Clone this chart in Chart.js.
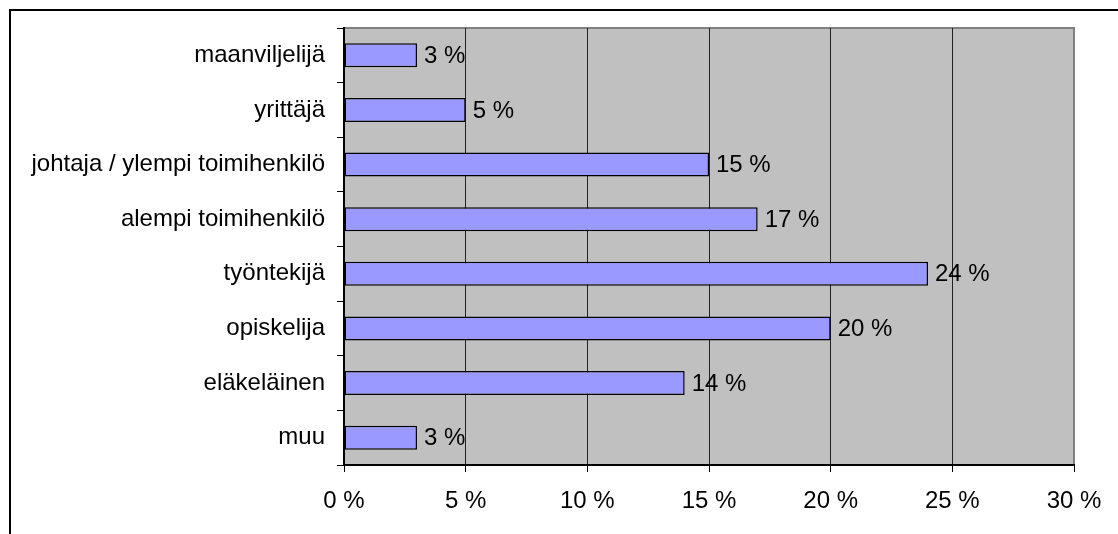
<!DOCTYPE html>
<html>
<head>
<meta charset="utf-8">
<script src="https://cdn.jsdelivr.net/npm/chart.js@4"></script>
<style>
  body { margin: 0; background: #fff; }
  canvas { display: block; }
</style>
</head>
<body>
<canvas id="grafico" width="1118" height="534"></canvas>
<script>
// datos
const categorias = ['maanviljelijä', 'yrittäjä', 'johtaja / ylempi toimihenkilö', 'alempi toimihenkilö', 'työntekijä', 'opiskelija', 'eläkeläinen', 'muu'];
const porcentajes = [3, 5, 15, 17, 24, 20, 14, 3];
const ticksX = [0, 5, 10, 15, 20, 25, 30];

const fuente = { family: "'Liberation Sans', Arial, sans-serif", size: 24 };

// fondo gris del area y marco exterior
const fondoPlugin = {
  id: 'fondo',
  beforeDraw(chart) {
    const { ctx, chartArea: a } = chart;
    ctx.save();
    ctx.fillStyle = '#fff';
    ctx.fillRect(0, 0, chart.width, chart.height);
    ctx.fillStyle = '#C0C0C0';
    ctx.fillRect(a.left, a.top, a.right - a.left, a.bottom - a.top);
    ctx.strokeStyle = '#808080';
    ctx.lineWidth = 2;
    ctx.beginPath();
    ctx.moveTo(a.left, a.top);
    ctx.lineTo(a.right, a.top);
    ctx.lineTo(a.right, a.bottom);
    ctx.stroke();
    ctx.restore();
  },
  afterDraw(chart) {
    const ctx = chart.ctx;
    ctx.save();
    ctx.fillStyle = '#000';
    ctx.fillRect(9, 9, 2, chart.height - 9);
    ctx.fillRect(9, 9, chart.width - 9, 2);
    ctx.restore();
  }
};

// etiquetas de valor al final de cada barra
const etiquetasPlugin = {
  id: 'etiquetas',
  afterDatasetsDraw(chart) {
    const ctx = chart.ctx;
    const meta = chart.getDatasetMeta(0);
    ctx.save();
    ctx.font = fuente.size + 'px ' + fuente.family;
    ctx.fillStyle = '#000';
    ctx.textBaseline = 'middle';
    ctx.textAlign = 'left';
    meta.data.forEach((barra, i) => {
      ctx.fillText(porcentajes[i] + ' %', barra.x + 7, barra.y + 1);
    });
    ctx.restore();
  }
};

new Chart(document.getElementById('grafico'), {
  type: 'bar',
  data: {
    labels: categorias,
    datasets: [{
      data: porcentajes,
      backgroundColor: '#9999FF',
      borderColor: '#000',
      borderWidth: 1.5,
      borderSkipped: false,
      categoryPercentage: 1,
      barPercentage: 0.44
    }]
  },
  options: {
    indexAxis: 'y',
    responsive: false,
    devicePixelRatio: 1,
    animation: false,
    layout: { padding: { left: 0, top: 28, right: 44, bottom: 0 } },
    plugins: {
      legend: { display: false },
      tooltip: { enabled: false }
    },
    scales: {
      x: {
        min: 0,
        max: 30,
        afterBuildTicks(scale) {
          scale.ticks = ticksX.map(v => ({ value: v }));
        },
        afterFit(scale) { scale.height = 69; },
        ticks: {
          color: '#000',
          font: fuente,
          padding: 15,
          maxRotation: 0,
          callback: v => v + ' %'
        },
        grid: {
          color: c => (c.tick && c.tick.value === 30) ? '#808080' : '#222',
          lineWidth: 1,
          tickLength: 7,
          tickColor: '#000'
        },
        border: { display: true, color: '#000', width: 2 }
      },
      y: {
        afterFit(scale) { scale.width = 344; },
        ticks: {
          color: '#000',
          font: fuente,
          padding: 12
        },
        grid: {
          drawOnChartArea: false,
          tickLength: 7,
          color: '#000'
        },
        border: { display: true, color: '#000', width: 2 }
      }
    }
  },
  plugins: [fondoPlugin, etiquetasPlugin]
});
</script>
</body>
</html>
